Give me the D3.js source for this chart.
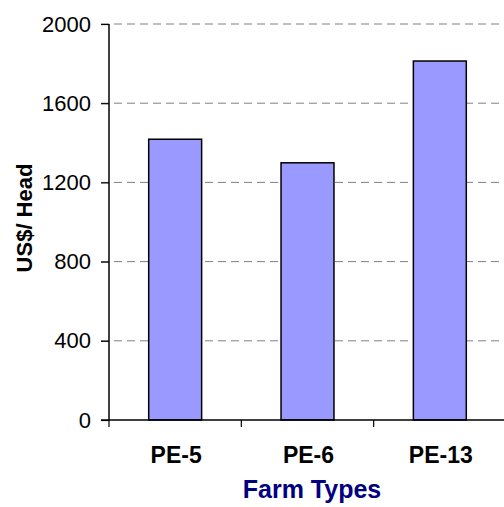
<!DOCTYPE html>
<html><head><meta charset="utf-8">
<script src="https://cdn.jsdelivr.net/npm/d3@7/dist/d3.min.js"></script>
<style>body{margin:0;background:#fff}svg{display:block}text{font-family:"Liberation Sans",Arial,sans-serif}</style>
</head><body>
<svg id="c" width="504" height="507"></svg>
<script>
const categories = ["PE-5", "PE-6", "PE-13"];
const values = [1418, 1299, 1813];
const yTicks = [0, 400, 800, 1200, 1600, 2000];

(function () {
const svg = d3.select("#c");
const pl = 109, pr = 506, pt = 24, pb = 420;
const x = d3.scaleBand().domain(categories).range([pl, pr]).paddingInner(0.6).paddingOuter(0.3);
const y = d3.scaleLinear().domain([0, 2000]).range([pb, pt]);

// gridlines
svg.append("g").selectAll("line").data(yTicks.filter(d => d > 0)).join("line")
  .attr("x1", pl - 8).attr("x2", 504)
  .attr("y1", d => y(d)).attr("y2", d => y(d))
  .attr("stroke", "#808080").attr("stroke-width", 1).attr("stroke-dasharray", "8,5");

// bars
svg.append("g").selectAll("rect").data(values).join("rect")
  .attr("x", (d, i) => x(categories[i]))
  .attr("width", x.bandwidth())
  .attr("y", d => y(d))
  .attr("height", d => y(0) - y(d))
  .attr("fill", "#9999FF").attr("stroke", "#000").attr("stroke-width", 1.5);

// y axis
const ya = svg.append("g").attr("transform", `translate(${pl},0)`)
  .call(d3.axisLeft(y).tickValues(yTicks).tickSize(8).tickPadding(10).tickFormat(d3.format("d")));
ya.select(".domain").attr("stroke", "#000").attr("stroke-width", 1.5).attr("d", `M0,${pt}V${pb}`);
ya.selectAll(".tick line").attr("stroke", "#000").attr("stroke-width", 1.2);
ya.selectAll(".tick text").attr("font-size", 22).attr("fill", "#000").attr("font-family", "Liberation Sans, Arial, sans-serif");

// x axis
const bandEdges = [pl, pl + (pr - pl) / 3, pl + 2 * (pr - pl) / 3];
svg.append("line").attr("x1", pl - 8).attr("x2", 504).attr("y1", pb).attr("y2", pb)
  .attr("stroke", "#000").attr("stroke-width", 1.5);
svg.append("g").selectAll("line").data(bandEdges).join("line")
  .attr("x1", d => d).attr("x2", d => d).attr("y1", pb).attr("y2", pb + 7)
  .attr("stroke", "#000").attr("stroke-width", 1.2);
svg.append("g").selectAll("text").data(categories).join("text")
  .attr("x", d => x(d) + x.bandwidth() / 2 + 1).attr("y", 463)
  .attr("text-anchor", "middle").attr("font-size", 23).attr("font-weight", "bold").text(d => d);

// axis titles
svg.append("text").attr("x", 312).attr("y", 498).attr("text-anchor", "middle")
  .attr("font-size", 25).attr("font-weight", "bold").attr("fill", "#000080").text("Farm Types");
svg.append("text").attr("transform", "translate(32,218) rotate(-90)").attr("text-anchor", "middle")
  .attr("font-size", 22).attr("font-weight", "bold").attr("fill", "#000").text("US$/ Head");
})();
</script>
</body></html>
